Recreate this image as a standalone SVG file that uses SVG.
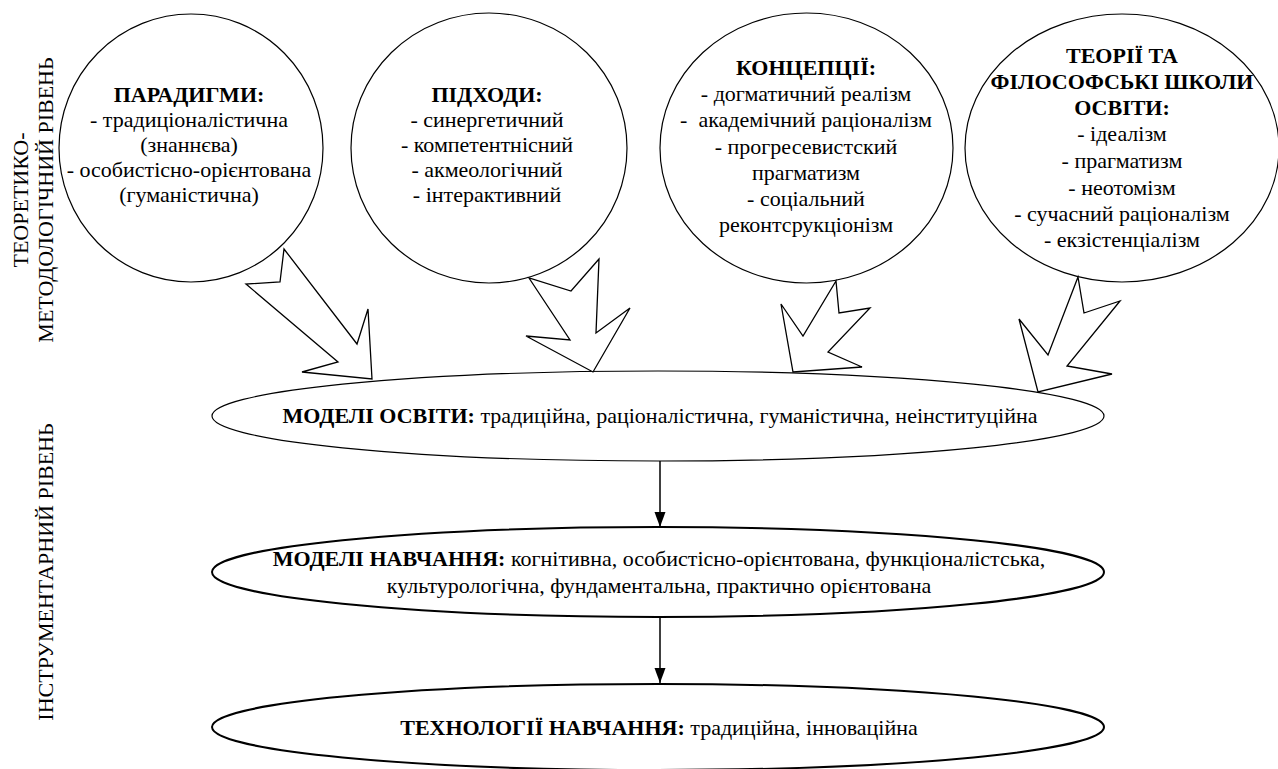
<svg xmlns="http://www.w3.org/2000/svg" width="1278" height="769" viewBox="0 0 1278 769">
  <defs>
    <style>
      .bg { fill: #ffffff; }
      .circ { fill: #ffffff; stroke: #000000; stroke-width: 1.2; }
      .ell1 { fill: #ffffff; stroke: #000000; stroke-width: 1.2; }
      .ell2 { fill: #ffffff; stroke: #000000; stroke-width: 2; }
      .blk { fill: #ffffff; stroke: #000000; stroke-width: 1.3; }
      .conn { stroke: #000000; stroke-width: 1.5; fill: none; }
      text { font-family: "Liberation Serif", "Times New Roman", serif; font-size: 22px; fill: #000000; text-anchor: middle; }
      .b { font-weight: bold; }
    </style>
    <marker id="ah" markerUnits="userSpaceOnUse" markerWidth="16" markerHeight="12" refX="15" refY="5.5" orient="auto">
      <path d="M0,0 L15,5.5 L0,11 Z" fill="#000000"/>
    </marker>
  </defs>

  <rect class="bg" x="0" y="0" width="1278" height="769"/>

  <g id="level-labels">
    <text transform="translate(28,200) rotate(-90)">ТЕОРЕТИКО-</text>
    <text transform="translate(53,200) rotate(-90)">МЕТОДОЛОГІЧНИЙ РІВЕНЬ</text>
    <text transform="translate(53,572) rotate(-90)">ІНСТРУМЕНТАРНИЙ РІВЕНЬ</text>
  </g>

  <g id="node-paradigms">
    <ellipse class="circ" cx="191" cy="148" rx="132" ry="134"/>
    <text class="b" x="189" y="102">ПАРАДИГМИ:</text>
    <text x="189" y="127">- традиціоналістична</text>
    <text x="189" y="152">(знаннєва)</text>
    <text x="189" y="177">- особистісно-орієнтована</text>
    <text x="189" y="202">(гуманістична)</text>
  </g>

  <g id="node-approaches">
    <ellipse class="circ" cx="489" cy="148" rx="138" ry="135"/>
    <text class="b" x="487" y="102">ПІДХОДИ:</text>
    <text x="487" y="127">- синергетичний</text>
    <text x="487" y="152">- компетентнісний</text>
    <text x="487" y="177">- акмеологічний</text>
    <text x="487" y="202">- інтерактивний</text>
  </g>

  <g id="node-concepts">
    <ellipse class="circ" cx="806.5" cy="148" rx="146.5" ry="135"/>
    <text class="b" x="806" y="75">КОНЦЕПЦІЇ:</text>
    <text x="806" y="101">- догматичний реалізм</text>
    <text x="806" y="127">-&#160; академічний раціоналізм</text>
    <text x="806" y="154">- прогресевистский</text>
    <text x="806" y="180">прагматизм</text>
    <text x="806" y="206">- соціальний</text>
    <text x="806" y="232">реконтсрукціонізм</text>
  </g>

  <g id="node-theories">
    <ellipse class="circ" cx="1122" cy="148" rx="157" ry="134"/>
    <text class="b" x="1122" y="63">ТЕОРІЇ ТА</text>
    <text class="b" x="1122" y="89">ФІЛОСОФСЬКІ ШКОЛИ</text>
    <text class="b" x="1122" y="115">ОСВІТИ:</text>
    <text x="1122" y="141">- ідеалізм</text>
    <text x="1122" y="168">- прагматизм</text>
    <text x="1122" y="195">- неотомізм</text>
    <text x="1122" y="221">- сучасний раціоналізм</text>
    <text x="1122" y="247">- екзістенціалізм</text>
  </g>

  <g id="node-edu-models">
    <ellipse class="ell1" cx="658" cy="416" rx="446" ry="45"/>
    <text x="660" y="423"><tspan class="b">МОДЕЛІ ОСВІТИ:</tspan> традиційна, раціоналістична, гуманістична, неінституційна</text>
  </g>

  <g id="node-learning-models">
    <ellipse class="ell2" cx="658" cy="572" rx="446" ry="45"/>
    <text x="659" y="566"><tspan class="b">МОДЕЛІ НАВЧАННЯ:</tspan> когнітивна, особистісно-орієнтована, функціоналістська,</text>
    <text x="659" y="593">культурологічна, фундаментальна, практично орієнтована</text>
  </g>

  <g id="node-tech">
    <ellipse class="ell2" cx="658" cy="727" rx="446" ry="43"/>
    <text x="659" y="735"><tspan class="b">ТЕХНОЛОГІЇ НАВЧАННЯ:</tspan> традиційна, інноваційна</text>
  </g>

  <g id="connectors">
    <polygon class="blk" points="284,249 280,282 246,284 338,362 302,372 372,379 368,309 357,344"/>
    <polygon class="blk" points="599,259 571,291 529,278 570,340 526,336 593,372 630,308 596,333"/>
    <polygon class="blk" points="836,281 839,313 870,308 828,352 862,367 793,372 781,304 803,336"/>
    <polygon class="blk" points="1078,277 1084,313 1120,301 1067,366 1112,374 1038,392 1019,319 1048,355"/>
    <line class="conn" x1="660" y1="461" x2="660" y2="527" marker-end="url(#ah)"/>
    <line class="conn" x1="660" y1="617" x2="660" y2="683" marker-end="url(#ah)"/>
  </g>
</svg>
